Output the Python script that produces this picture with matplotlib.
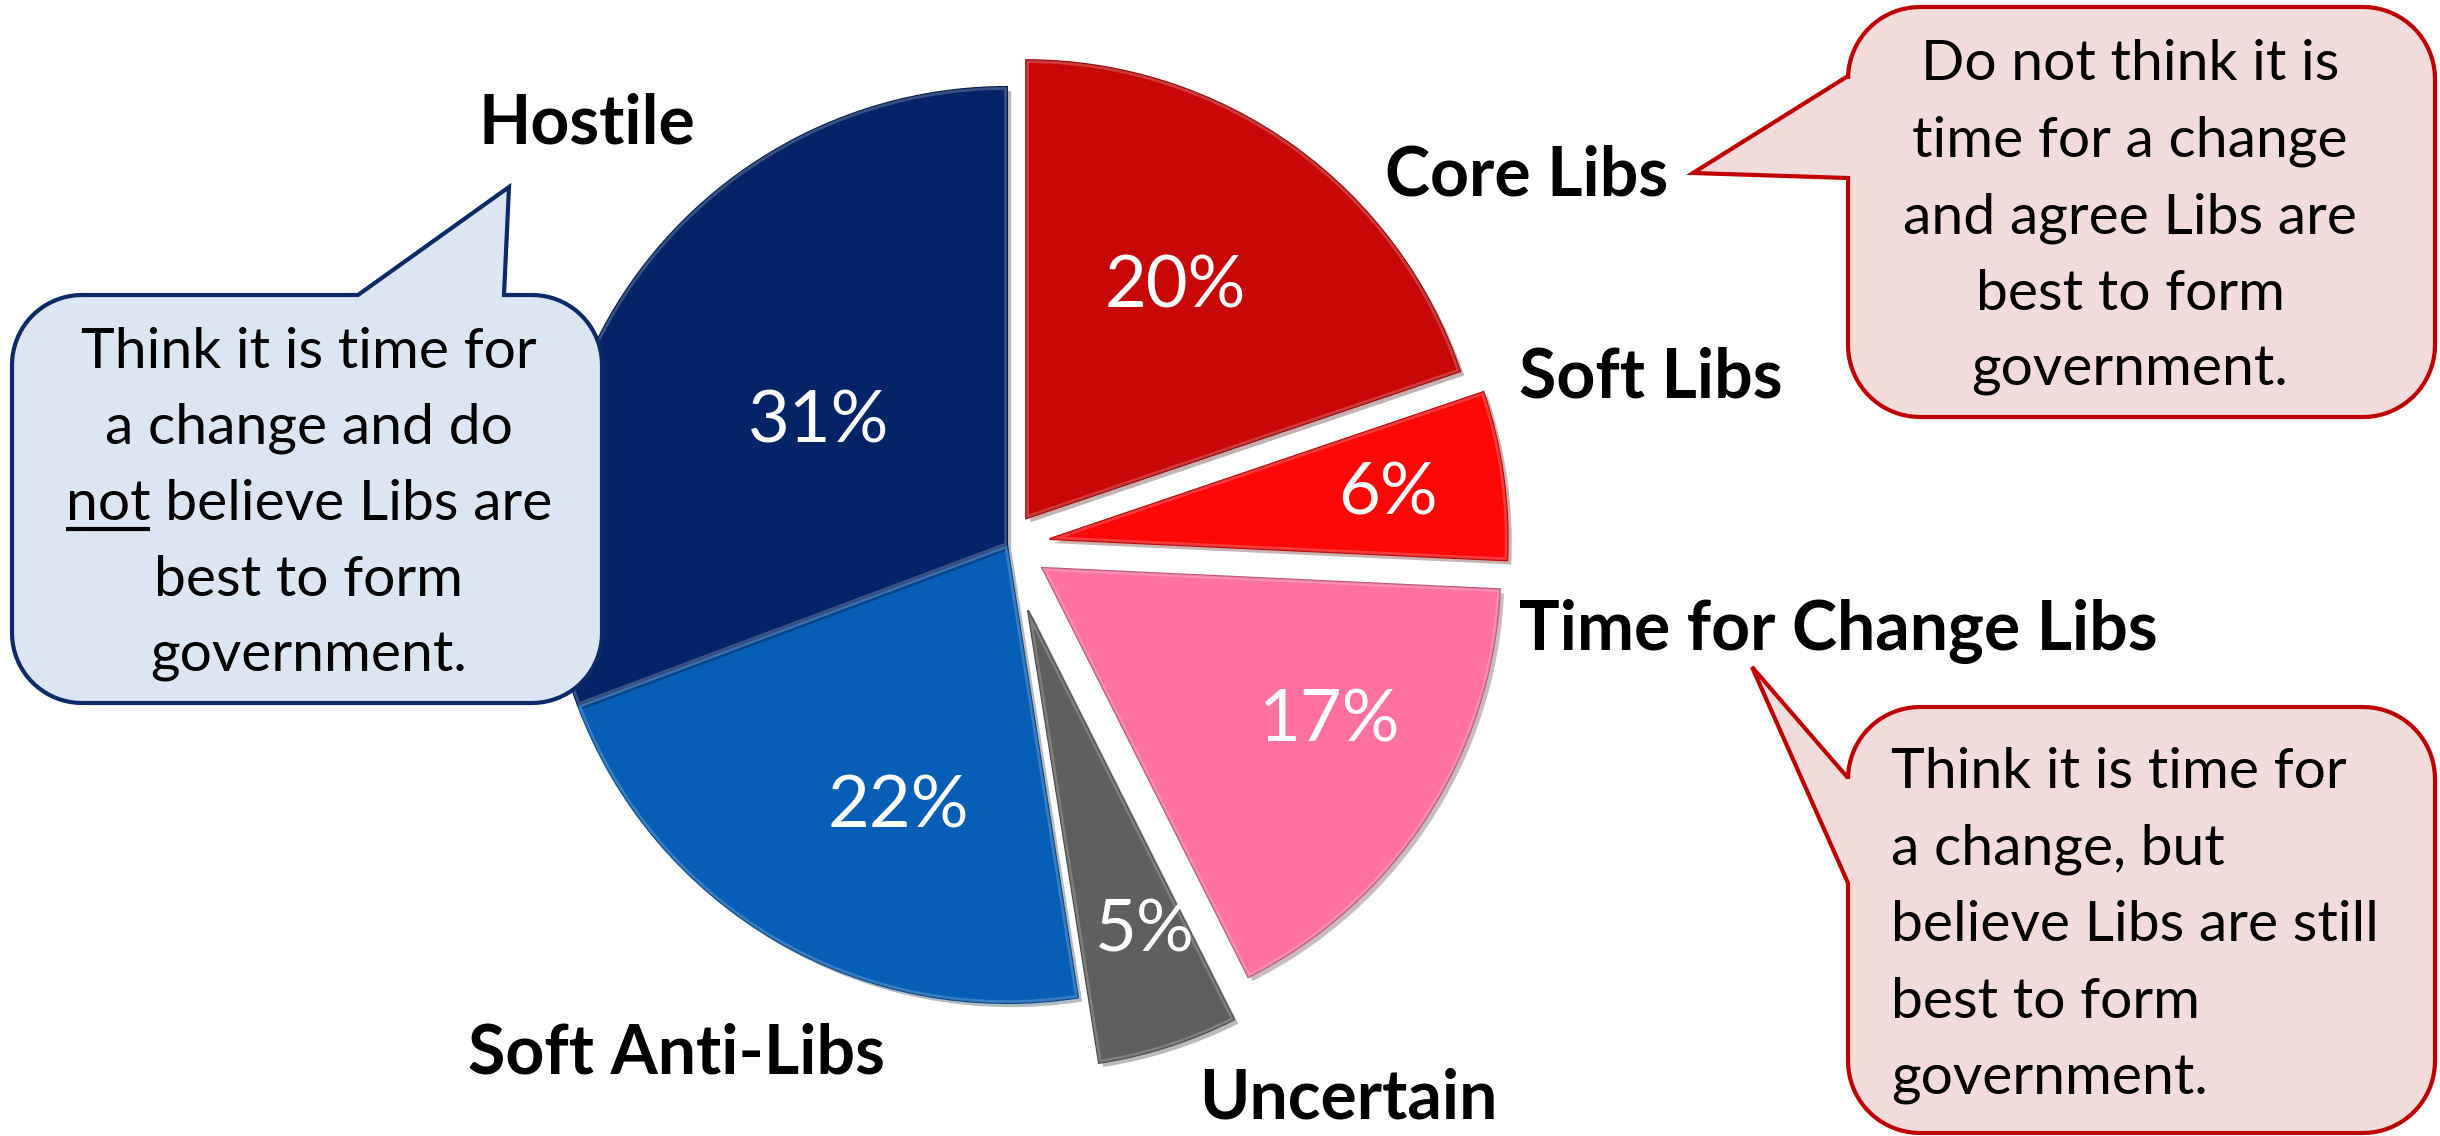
import numpy as np
import matplotlib
matplotlib.use("Agg")
import matplotlib.pyplot as plt
from matplotlib.patches import Polygon, Wedge
import matplotlib.patheffects as pe
from matplotlib.colors import to_rgb

W, H = 2440, 1136

# -------------------------------
# Data
# -------------------------------
segments = ["Core Libs", "Soft Libs", "Time for Change Libs",
            "Uncertain", "Soft Anti-Libs", "Hostile"]
shares = [20, 6, 17, 5, 22, 31]
pct_labels = [f"{v}%" for v in shares]

left_note = ["Think it is time for", "a change and do", "not believe Libs are",
             "best to form", "government."]
core_note = ["Do not think it is", "time for a change", "and agree Libs are",
             "best to form", "government."]
change_note = ["Think it is time for", "a change, but", "believe Libs are still",
               "best to form", "government."]

# -------------------------------
# Style / layout (pixel coords, y down)
# -------------------------------
colors = ["#C80707", "#FD0707", "#FE71A1", "#5F5F5F", "#065EB6", "#052467"]
explode_frac = [0.072, 0.094, 0.092, 0.15, 0, 0]   # as fraction of radius
pct_radius = [0.60, 0.745, 0.71, 0.745, 0.62, 0.49]
pct_frac = [0.54, 0.48, 0.58, 0.62, 0.60, 0.515]
pie_center = (1007, 545)
pie_r = 458

name_pos = [(1527, 176), (1651, 378), (1838, 632), (1348, 1099), (676, 1054), (587, 124)]

FONT = ["Lato", "DejaVu Sans"]


def Y(y):
    return H - y


def mix(c, other, f):
    a = np.array(to_rgb(c))
    b = np.array(to_rgb(other))
    return tuple(a * (1 - f) + b * f)


def bubble_pts(x0, y0, x1, y1, r, side, a, b, tip):
    pts = []

    def arc(cx, cy, t0, t1):
        for t in np.linspace(np.radians(t0), np.radians(t1), 20):
            pts.append((cx + r * np.cos(t), cy + r * np.sin(t)))

    pts.append((x0 + r, y0))
    if side == "top":
        pts += [(a, y0), tip, (b, y0)]
    arc(x1 - r, y0 + r, -90, 0)
    arc(x1 - r, y1 - r, 0, 90)
    arc(x0 + r, y1 - r, 90, 180)
    if side == "left":
        pts += [(x0, b), tip, (x0, a)]
    arc(x0 + r, y0 + r, 180, 270)
    return [(px, Y(py)) for px, py in pts]


def draw_bubble(ax, box, side, a, b, tip, face, edge, z):
    poly = Polygon(bubble_pts(*box, side, a, b, tip), closed=True,
                   facecolor=face, edgecolor=edge, lw=3, joinstyle="miter", zorder=z)
    ax.add_patch(poly)


fig = plt.figure(figsize=(W / 100, H / 100), dpi=100)
ax = fig.add_axes([0, 0, 1, 1])

wedges, _ = ax.pie(shares, explode=[e * pie_r for e in explode_frac],
                   colors=colors, startangle=90, counterclock=False,
                   radius=pie_r, center=(pie_center[0], Y(pie_center[1])),
                   wedgeprops=dict(linewidth=1.5))
for w, c in zip(wedges, colors):
    w.set_edgecolor(mix(c, "black", 0.25))
    w.set_zorder(2)
    w.set_path_effects([pe.SimplePatchShadow(offset=(3, -3), alpha=0.3),
                        pe.Normal()])
    # soft bevel: light stroke kept inside the slice
    rim = Wedge(w.center, w.r, w.theta1, w.theta2, facecolor="none",
                edgecolor=mix(c, "white", 0.35), lw=4, alpha=0.6, zorder=3)
    ax.add_patch(rim)
    rim.set_clip_path(w)

# percentage labels inside the slices
for w, txt, rr, fr in zip(wedges, pct_labels, pct_radius, pct_frac):
    ang = np.radians(w.theta1 + fr * (w.theta2 - w.theta1))
    cx, cy = w.center
    ax.text(cx + rr * w.r * np.cos(ang), cy + rr * w.r * np.sin(ang), txt,
            ha="center", va="center", color="white", fontsize=52,
            family=FONT, zorder=4)

# segment names
for name, (x, y) in zip(segments, name_pos):
    ax.text(x, Y(y), name, ha="center", va="center", fontsize=49,
            fontweight="bold", family=FONT, color="black", zorder=4)

# callouts
blue_face, blue_edge = "#DCE6F2", "#0C2A6A"
red_face, red_edge = "#F2DCDB", "#C00000"
draw_bubble(ax, (12, 295, 602, 703, 70), "top", 358, 504, (509, 187),
            blue_face, blue_edge, 5)
draw_bubble(ax, (1848, 7, 2435, 417, 72), "left", 76, 178, (1693, 173),
            red_face, red_edge, 5)
draw_bubble(ax, (1848, 707, 2435, 1133, 72), "left", 778, 883, (1752, 667),
            red_face, red_edge, 5)

note_kw = dict(fontsize=41, family=FONT, color="black", va="baseline", zorder=6)
left_txt = []
for i, line in enumerate(left_note):
    left_txt.append(ax.text(309, Y(368 + 76 * i), line, ha="center", **note_kw))
for i, line in enumerate(core_note):
    ax.text(2130, Y(80 + 76.5 * i), line, ha="center", **note_kw)
for i, line in enumerate(change_note):
    ax.text(1891, Y(788 + 76.7 * i), line, ha="left", **note_kw)

ax.set_xlim(0, W)
ax.set_ylim(0, H)
ax.set_aspect("auto")
ax.axis("off")

# underline "not" in the left callout
fig.canvas.draw()
rend = fig.canvas.get_renderer()
bb = left_txt[2].get_window_extent(rend)
probe = ax.text(0, 0, "not", **note_kw)
wnot = probe.get_window_extent(rend).width
probe.remove()
base = Y(368 + 76 * 2) - 9
ax.plot([bb.x0, bb.x0 + wnot], [base, base], color="black", lw=3, zorder=6,
        solid_capstyle="butt")

fig.savefig("out.png", dpi=100, facecolor="white")
